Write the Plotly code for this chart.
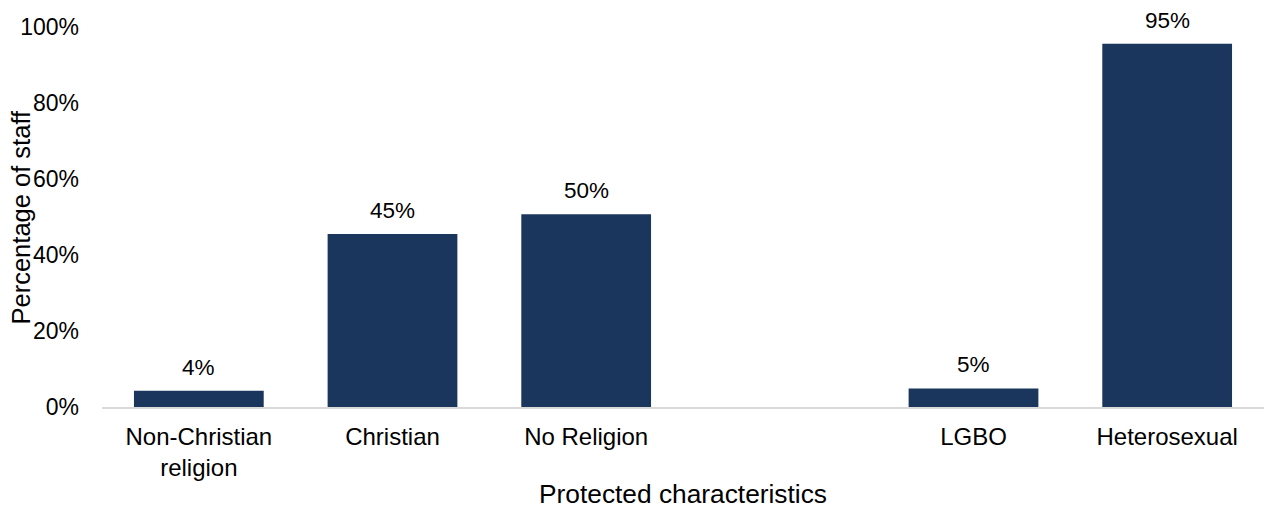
import plotly.graph_objects as go

categories = ["Non-Christian<br>religion", "Christian", "No Religion", "LGBO", "Heterosexual"]
positions = [0, 1, 2, 4, 5]
values = [4.3, 45.5, 50.7, 4.9, 95.6]
labels = ["4%", "45%", "50%", "5%", "95%"]
y_ticks = [0, 20, 40, 60, 80, 100]
y_tick_labels = ["0%", "20%", "40%", "60%", "80%", "100%"]

BAR = "#1B365D"
FONT = "Liberation Sans, Arial, sans-serif"

fig = go.Figure()
fig.add_trace(go.Bar(
    x=positions, y=values, width=0.67,
    marker=dict(color=BAR, line=dict(width=0)),
    hoverinfo="skip",
))

for xv, yv, t in zip(positions, values, labels):
    fig.add_annotation(x=xv, y=yv, text=t, showarrow=False, yanchor="bottom",
                       yshift=9, font=dict(family=FONT, size=22.5, color="#000000"))

fig.add_annotation(xref="paper", yref="paper", x=(20.5 - 102) / 1162, y=0.5,
                   text="Percentage of staff", textangle=-90, showarrow=False,
                   xanchor="center", yanchor="middle",
                   font=dict(family=FONT, size=25.5, color="#000000"))

fig.update_layout(
    width=1264, height=509,
    margin=dict(l=102, r=0, t=27, b=102),
    paper_bgcolor="white", plot_bgcolor="white",
    showlegend=False,
    font=dict(family=FONT, size=22, color="#000000"),
    xaxis=dict(
        range=[-0.5, 5.5], tickvals=positions, ticktext=categories,
        showgrid=False, zeroline=False, showline=True, linecolor="#D9D9D9", linewidth=2,
        ticks="", ticklabelstandoff=7,
        tickfont=dict(family=FONT, size=24, color="#000000"),
        title=dict(text="Protected characteristics", standoff=5,
                   font=dict(family=FONT, size=26.3, color="#000000")),
    ),
    yaxis=dict(
        range=[0, 100], tickvals=y_ticks, ticktext=y_tick_labels,
        showgrid=False, zeroline=False, showline=False, ticks="",
        ticklabelstandoff=22,
        tickfont=dict(family=FONT, size=23, color="#000000"),
    ),
)

fig.write_html("out.html", config={"displayModeBar": False},
               post_script="document.body.style.margin='0';")
